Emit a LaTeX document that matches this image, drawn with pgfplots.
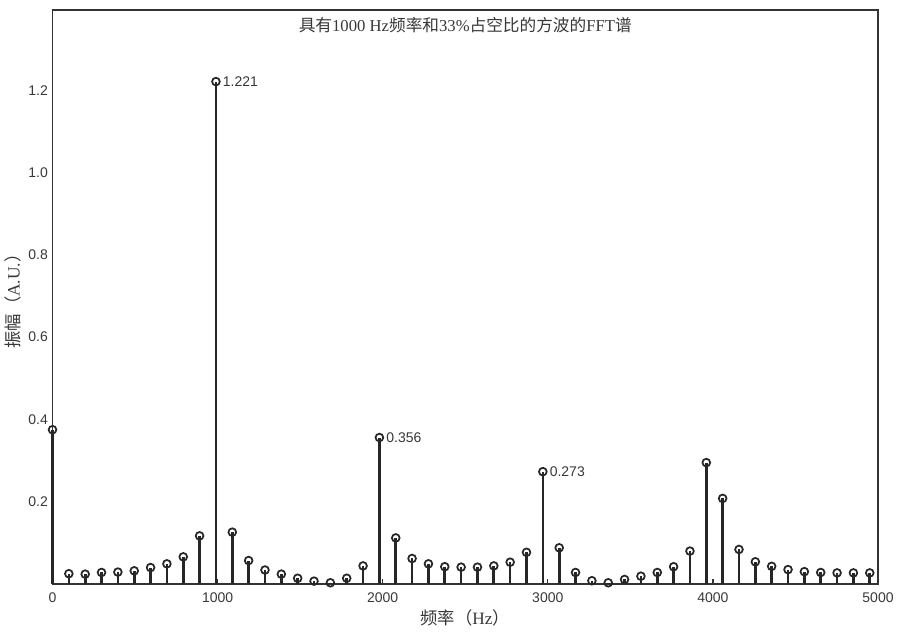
\documentclass[border=0pt]{standalone}
\usepackage{fontspec}
\setmainfont{Liberation Serif}
\newfontfamily\cjk{Noto Sans CJK SC}
\newfontfamily\lsans{Liberation Sans}
\usepackage{pgfplots}
\usepackage{pgfplotstable}
\pgfplotsset{compat=1.18}
\definecolor{ax}{HTML}{333333}
\definecolor{txt}{HTML}{383838}
\definecolor{stem}{HTML}{262626}

\pgfplotstableread{
f amp
0 0.375
99 0.025
198 0.024
297 0.028
396 0.029
495 0.032
594 0.040
693 0.049
792 0.066
891 0.117
990 1.221
1089 0.126
1188 0.057
1287 0.034
1386 0.024
1485 0.014
1584 0.007
1683 0.003
1782 0.014
1881 0.044
1980 0.356
2079 0.112
2178 0.062
2277 0.049
2376 0.042
2475 0.041
2574 0.041
2673 0.044
2772 0.053
2871 0.077
2970 0.273
3069 0.088
3168 0.028
3267 0.008
3366 0.003
3465 0.011
3564 0.019
3663 0.028
3762 0.042
3861 0.080
3960 0.295
4059 0.208
4158 0.084
4257 0.054
4356 0.043
4455 0.035
4554 0.030
4653 0.028
4752 0.027
4851 0.027
4950 0.027
}\spectrum

\begin{document}
\begin{tikzpicture}
\begin{axis}[
  scale only axis,
  width=619.125pt, height=430.5pt,
  xmin=0, xmax=5000, ymin=0, ymax=1.395,
  clip=false,
  axis line style={ax, line width=1.2pt},
  xtick={0,1000,2000,3000,4000,5000},
  ytick={0.2,0.4,0.6,0.8,1.0,1.2},
  xtick pos=left, ytick pos=left,
  tick align=inside,
  major tick length=4pt,
  xtick style={ax, line width=1pt},
  ytick style={draw=none},
  /pgf/number format/assume math mode=true,
  ticklabel style={font=\lsans\fontsize{10.5}{12}\selectfont, text=txt},
  xticklabel style={/pgf/number format/1000 sep={}, yshift=-3pt},
  yticklabel style={/pgf/number format/.cd, fixed, fixed zerofill, precision=1},
  xlabel={{\cjk 频率（}Hz{\cjk ）}},
  ylabel={{\cjk 振幅（}A.U.{\cjk ）}},
  label style={font=\fontsize{13}{15}\selectfont, text=txt},
  xlabel style={at={(axis description cs:0.5,0)}, anchor=center, yshift=-25.5pt},
  ylabel style={at={(axis description cs:0,0.5)}, anchor=center, yshift=29.6pt},
  title={{\cjk 具有}1000 Hz{\cjk 频率和}33\%{\cjk 占空比的方波的}FFT{\cjk 谱}},
  title style={at={(axis description cs:0.5,1)}, anchor=center, yshift=-17.25pt,
    font=\fontsize{12.5}{14}\selectfont, text=txt},
]
\addplot[ycomb, stem, line width=2pt, mark=o,
  mark options={solid, line width=1.3pt, draw=stem, mark size=2.9pt}]
  table[x=f, y=amp] {\spectrum};
\node[anchor=west, inner sep=0pt, xshift=5pt, font=\lsans\fontsize{10.5}{12}\selectfont, text=txt] at (axis cs:990,1.221) {1.221};
\node[anchor=west, inner sep=0pt, xshift=5pt, font=\lsans\fontsize{10.5}{12}\selectfont, text=txt] at (axis cs:1980,0.356) {0.356};
\node[anchor=west, inner sep=0pt, xshift=5pt, font=\lsans\fontsize{10.5}{12}\selectfont, text=txt] at (axis cs:2970,0.273) {0.273};
\coordinate (sw) at (rel axis cs:0,0);
\coordinate (ne) at (rel axis cs:1,1);
\end{axis}
\pgfresetboundingbox
\useasboundingbox ([xshift=-39.375pt,yshift=-35.25pt]sw) rectangle ([xshift=16.5pt,yshift=7.5pt]ne);
\end{tikzpicture}
\end{document}
